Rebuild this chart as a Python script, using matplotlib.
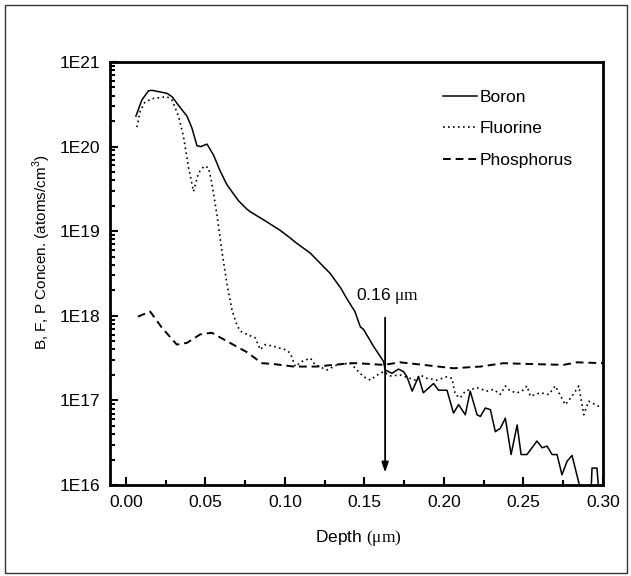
"""SIMS-style depth profile of B, F and P concentrations, log scale."""

import matplotlib.pyplot as plt
import numpy as np
from matplotlib.patches import Rectangle
from matplotlib.ticker import FixedLocator, FixedFormatter, LogLocator, NullFormatter

plt.rcParams["font.family"] = ["Liberation Sans", "DejaVu Sans"]
plt.rcParams["mathtext.fontset"] = "custom"
plt.rcParams["mathtext.rm"] = "Liberation Serif"
plt.rcParams["mathtext.sf"] = "Liberation Sans"

# Depth (um) and log10 concentration (atoms/cm^3).
boron_depth = [
    0.0063, 0.0100, 0.0142, 0.0164, 0.0258, 0.0290, 0.0342, 0.0384, 0.0415, 0.0447,
    0.0472, 0.0510, 0.0551, 0.0593, 0.0635, 0.0677, 0.0708, 0.0761, 0.0782, 0.0887,
    0.0928, 0.0970, 0.1033, 0.1065, 0.1160, 0.1264, 0.1285, 0.1350, 0.1390, 0.1440,
    0.1474, 0.1494, 0.1557, 0.1620, 0.1630, 0.1673, 0.1714, 0.1746, 0.1767, 0.1800,
    0.1840, 0.1870, 0.1935, 0.1966, 0.2019, 0.2060, 0.2092, 0.2134, 0.2165, 0.2208,
    0.2229, 0.2260, 0.2292, 0.2323, 0.2354, 0.2386, 0.2422, 0.2460, 0.2485, 0.2522,
    0.2585, 0.2617, 0.2648, 0.2680, 0.2711, 0.2742, 0.2774, 0.2805, 0.2853, 0.2900,
    0.2922, 0.2931, 0.2962, 0.2979, 0.3000,
]
boron_log = [
    20.36, 20.55, 20.66, 20.665, 20.63, 20.59, 20.46, 20.36, 20.22, 20.01,
    20.00, 20.03, 19.90, 19.71, 19.55, 19.44, 19.36, 19.26, 19.23, 19.11,
    19.06, 19.01, 18.92, 18.87, 18.74, 18.54, 18.50, 18.33, 18.20, 18.05,
    17.87, 17.84, 17.64, 17.46, 17.36, 17.32, 17.37, 17.34, 17.28, 17.11,
    17.28, 17.09, 17.20, 17.12, 17.12, 16.85, 16.95, 16.83, 17.11, 16.83,
    16.81, 16.91, 16.89, 16.63, 16.67, 16.79, 16.36, 16.71, 16.36, 16.36,
    16.52, 16.44, 16.46, 16.36, 16.36, 16.12, 16.28, 16.35, 15.99, 15.80,
    15.80, 16.20, 16.20, 15.80, 15.80,
]

fluorine_depth = [
    0.0069, 0.0090, 0.0121, 0.0174, 0.0258, 0.0290, 0.0331, 0.0362, 0.0394, 0.0425,
    0.0457, 0.0492, 0.0520, 0.0540, 0.0572, 0.0604, 0.0635, 0.0667, 0.0698, 0.0719,
    0.0761, 0.0813, 0.0845, 0.0876, 0.0928, 0.1002, 0.1033, 0.1065, 0.1107, 0.1160,
    0.1190, 0.1264, 0.1327, 0.1410, 0.1432, 0.1494, 0.1537, 0.1580, 0.1620, 0.1662,
    0.1725, 0.1820, 0.1851, 0.1893, 0.1956, 0.2019, 0.2050, 0.2071, 0.2102, 0.2134,
    0.2208, 0.2271, 0.2312, 0.2354, 0.2386, 0.2417, 0.2460, 0.2490, 0.2522, 0.2543,
    0.2606, 0.2658, 0.2700, 0.2763, 0.2805, 0.2848, 0.2879, 0.2910, 0.2952, 0.2994,
]
fluorine_log = [
    20.23, 20.42, 20.53, 20.57, 20.59, 20.55, 20.36, 20.12, 19.75, 19.47,
    19.69, 19.77, 19.75, 19.57, 19.20, 18.76, 18.38, 18.07, 17.89, 17.82,
    17.78, 17.74, 17.60, 17.66, 17.64, 17.60, 17.56, 17.40, 17.46, 17.50,
    17.42, 17.36, 17.42, 17.44, 17.40, 17.28, 17.24, 17.30, 17.34, 17.29,
    17.30, 17.24, 17.30, 17.26, 17.24, 17.28, 17.26, 17.07, 17.03, 17.11,
    17.15, 17.11, 17.13, 17.07, 17.17, 17.11, 17.09, 17.11, 17.17, 17.05,
    17.09, 17.07, 17.17, 16.95, 17.05, 17.17, 16.83, 16.99, 16.95, 16.91,
]

phosphorus_depth = [
    0.0075, 0.0153, 0.0226, 0.0320, 0.0384, 0.0467, 0.0540, 0.0635, 0.0761, 0.0855,
    0.0928, 0.1054, 0.1200, 0.1306, 0.1410, 0.1453, 0.1620, 0.1725, 0.1870, 0.2060,
    0.2229, 0.2375, 0.2543, 0.2752, 0.2836, 0.3003,
]
phosphorus_log = [
    17.99, 18.05, 17.86, 17.66, 17.68, 17.78, 17.80, 17.70, 17.57, 17.44,
    17.43, 17.40, 17.40, 17.42, 17.44, 17.44, 17.42, 17.45, 17.42, 17.38,
    17.40, 17.44, 17.43, 17.42, 17.45, 17.44,
]

y_ticks = [1e16, 1e17, 1e18, 1e19, 1e20, 1e21]
y_tick_labels = ["1E16", "1E17", "1E18", "1E19", "1E20", "1E21"]
x_ticks = [0.00, 0.05, 0.10, 0.15, 0.20, 0.25, 0.30]
x_tick_labels = ["0.00", "0.05", "0.10", "0.15", "0.20", "0.25", "0.30"]

junction_depth = 0.163
arrow_top = 9.5e17
arrow_bottom = 1.4e16

W, H = 631, 576
FS = 12.5
fig = plt.figure(figsize=(W / 100, H / 100), dpi=100)
ax = fig.add_axes([110 / W, 1 - 485 / H, (603 - 110) / W, (485 - 62) / H])

# outer frame around the whole picture
fig.patches.append(Rectangle((5 / W, 3 / H), 622 / W, 568 / H, transform=fig.transFigure,
                             fill=False, edgecolor="#333333", linewidth=1.0))

ax.plot(boron_depth, 10 ** np.array(boron_log), "-", color="black", lw=1.1, label="Boron")
ax.plot(fluorine_depth, 10 ** np.array(fluorine_log), color="black", lw=1.2,
        linestyle=(0, (1, 2)), label="Fluorine")
ax.plot(phosphorus_depth, 10 ** np.array(phosphorus_log), color="black", lw=1.4,
        linestyle=(0, (4, 2.5)), label="Phosphorus")

ax.set_yscale("log")
ax.set_xlim(-0.01, 0.30)
ax.set_ylim(1e16, 1e21)

ax.yaxis.set_major_locator(FixedLocator(y_ticks))
ax.yaxis.set_major_formatter(FixedFormatter(y_tick_labels))
ax.yaxis.set_minor_locator(LogLocator(base=10, subs=np.arange(2, 10)))
ax.yaxis.set_minor_formatter(NullFormatter())
ax.xaxis.set_major_locator(FixedLocator(x_ticks))
ax.xaxis.set_major_formatter(FixedFormatter(x_tick_labels))
ax.xaxis.set_minor_locator(FixedLocator([0.025, 0.075, 0.125, 0.175, 0.225, 0.275]))

ax.tick_params(which="both", direction="in", top=False, right=False, labelsize=FS,
               width=1.5)
ax.tick_params(which="major", length=6, pad=7)
ax.tick_params(which="minor", length=3.5)
for s in ax.spines.values():
    s.set_linewidth(2.0)

ax.annotate("", xy=(junction_depth, arrow_bottom), xytext=(junction_depth, arrow_top),
            arrowprops=dict(arrowstyle="-|>,head_width=0.2,head_length=0.6",
                            color="black", lw=1.3, shrinkA=0, shrinkB=0))
ax.text(junction_depth - 0.0185, 10 ** 18.23, r"0.16 $\mathrm{\mu m}$", fontsize=FS,
        ha="left", va="center")

fig.text(358 / W, 1 - 538 / H, r"Depth $\mathrm{(\mu m)}$", fontsize=FS,
         ha="center", va="center")
fig.text(42 / W, 1 - 252 / H, r"B, F, P Concen. (atoms/cm$^{\mathsf{3}}$)", fontsize=11,
         ha="center", va="center", rotation=90)

ax.legend(loc="upper left", bbox_to_anchor=(0.675, 0.935), frameon=False,
          fontsize=FS, handlelength=2.0, handletextpad=0.12, labelspacing=0.95,
          borderaxespad=0.0, borderpad=0.0)

fig.savefig("out.png", dpi=100)
